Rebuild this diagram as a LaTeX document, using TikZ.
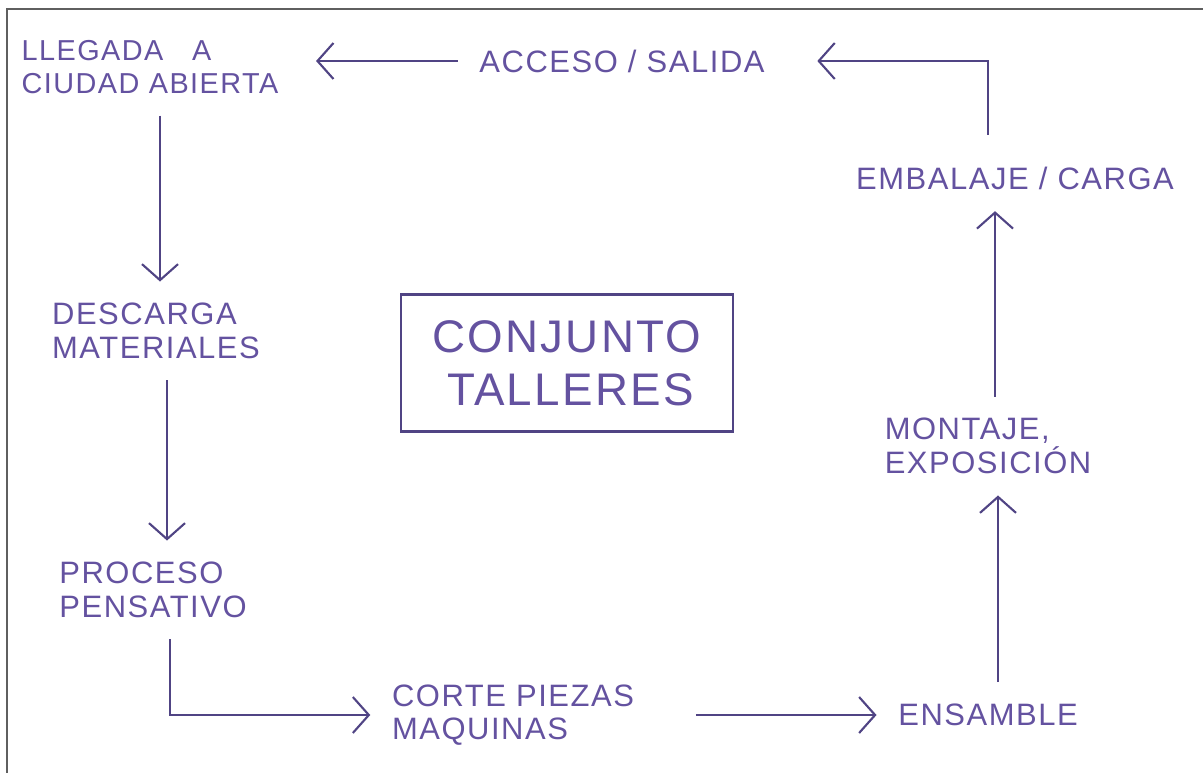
\documentclass[tikz,border=0pt]{standalone}
\usepackage{fontspec}
\setmainfont{Liberation Sans}[LetterSpace=5]
\usepackage{tikz}
\usetikzlibrary{arrows.meta,positioning,calc}

\definecolor{ink}{RGB}{100,82,160}
\definecolor{pen}{RGB}{80,68,132}
\definecolor{marco}{RGB}{95,95,95}

\begin{document}
\begin{tikzpicture}[x=0.01cm, y=-0.01cm,
        etapa/.style={rectangle, align=left, inner sep=2pt, text=ink, font=\fontsize{8.8}{9.5}\selectfont},
        taller/.style={rectangle, draw=pen, line width=0.6pt, align=left, text=ink, font=\fontsize{13}{15}\selectfont},
        flecha/.style={-{Straight Barb[length=1.6mm, width=3.6mm]}, draw=pen, line width=0.6pt, shorten <=4pt, shorten >=4pt}]

    \useasboundingbox (0,0) rectangle (1203,773);
    \draw[marco, line width=0.8pt] (7,773) -- (7,9) -- (1203,9);

    \node[etapa, font=\fontsize{8.2}{9.5}\selectfont] (llegada) at (150,67) {LLEGADA\quad A\\CIUDAD ABIERTA};
    \node[etapa] (acceso) at (622,61) {ACCESO / SALIDA};
    \node[etapa] (embalaje) at (1015,178) {EMBALAJE / CARGA};
    \node[etapa] (descarga) at (156,331) {DESCARGA\\MATERIALES};
    \node[taller, minimum width=3.31cm, minimum height=1.37cm] (conjunto) at (567,363) {CONJUNTO\\\ TALLERES};
    \node[etapa] (montaje) at (988,446) {MONTAJE,\\EXPOSICIÓN};
    \node[etapa] (proceso) at (153,590) {PROCESO\\PENSATIVO};
    \node[etapa] (corte) at (513,715) {CORTE PIEZAS\\MAQUINAS};
    \node[etapa] (ensamble) at (988,715) {ENSAMBLE};
    \coordinate (codo) at (988,135);

    % recorrido
    \draw[flecha] ([xshift=0.1cm]llegada.south) -- ([xshift=0.1cm]llegada.south |- descarga.north);
    \draw[flecha] ([xshift=0.11cm]descarga.south) -- ([xshift=0.11cm]descarga.south |- proceso.north);
    \draw[flecha] ([xshift=0.17cm]proceso.south) |- (corte.west);
    \draw[flecha] (corte.east) ++(0.4cm,0) -- (ensamble.west);
    \draw[flecha] ([xshift=0.1cm]ensamble.north) -- ([xshift=0.1cm]ensamble.north |- montaje.south);
    \draw[flecha] ([xshift=0.07cm]montaje.north) -- ([xshift=0.07cm]montaje.north |- embalaje.south);
    \draw[flecha, shorten <=0pt, shorten >=0.45cm] (codo) |- (acceso.east);
    \draw[flecha, shorten >=0.3cm] (acceso.west) -- (acceso.west -| llegada.east);

\end{tikzpicture}
\end{document}
